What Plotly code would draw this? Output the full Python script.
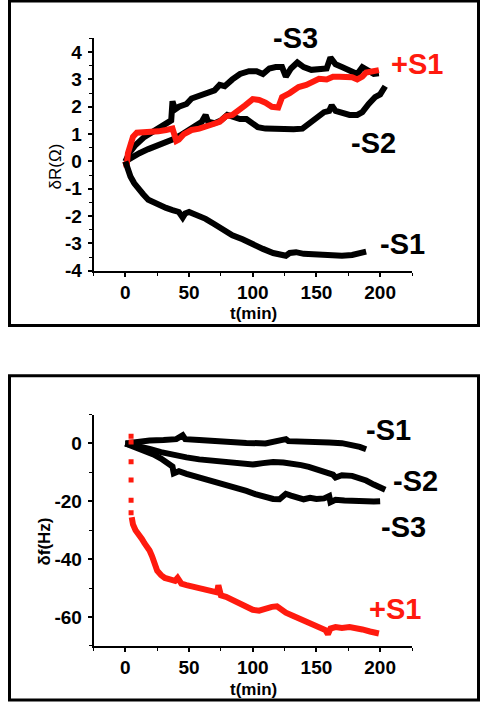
import plotly.graph_objects as go

# ---------------- Top panel: deltaR (Ohm) vs t (min) ----------------
t_R_mS3 = [0, 3, 8, 15, 22, 30, 36, 37, 39, 42, 48, 52, 58, 64, 70, 74, 78, 84, 90, 97, 103, 108,
           113, 118, 123, 126, 130, 135, 140, 146, 152, 158, 161, 165, 170, 176, 182, 186, 190, 195, 199]
R_mS3 = [0, 0.3, 0.6, 0.9, 1.1, 1.35, 1.5, 2.2, 1.9, 2.0, 2.1, 2.3, 2.4, 2.5, 2.6, 2.8, 2.75, 3.0, 3.2,
         3.3, 3.3, 3.2, 3.4, 3.45, 3.45, 3.1, 3.4, 3.62, 3.45, 3.35, 3.35, 3.4, 3.8, 3.55, 3.45, 3.3,
         3.2, 3.45, 3.35, 3.2, 3.22]

t_R_pS1 = [0, 1, 2, 4, 6, 9, 14, 20, 26, 32, 37, 40, 42, 46, 52, 58, 63, 68, 74, 79, 84, 89, 94, 100,
           105, 110, 115, 120, 123, 129, 136, 142, 147, 152, 158, 163, 168, 173, 178, 182, 186, 189,
           194, 199]
R_pS1 = [0, -0.2, 0.3, 0.7, 0.9, 1.05, 1.05, 1.05, 1.1, 1.15, 1.2, 0.75, 0.8, 1.0, 1.15, 1.2, 1.3,
         1.35, 1.45, 1.65, 1.7, 1.85, 2.05, 2.28, 2.25, 2.15, 2.0, 1.97, 2.35, 2.5, 2.72, 2.8, 2.9,
         3.02, 3.0, 3.1, 3.1, 3.1, 3.08, 3.0, 3.1, 3.25, 3.3, 3.34]

t_R_mS2 = [0, 5, 11, 18, 27, 33, 37, 43, 48, 55, 60, 63, 65, 70, 75, 80, 84, 90, 95, 100, 104, 110,
           118, 125, 132, 139, 145, 150, 156, 160, 162, 165, 170, 176, 182, 186, 191, 196, 200, 204]
R_mS2 = [0, 0.15, 0.3, 0.45, 0.6, 0.7, 0.8, 0.95, 1.1, 1.3, 1.45, 1.7, 1.45, 1.4, 1.5, 1.7, 1.65,
         1.55, 1.55, 1.35, 1.25, 1.2, 1.18, 1.2, 1.18, 1.2, 1.4, 1.6, 1.8, 1.85, 2.05, 1.85, 1.8,
         1.7, 1.7, 1.8, 2.1, 2.35, 2.45, 2.75]

t_R_mS1 = [0, 2, 4, 7, 10, 14, 18, 22, 27, 32, 37, 42, 45, 47, 50, 56, 63, 70, 77, 84, 92, 100, 108,
           116, 121, 126, 129, 134, 140, 150, 160, 170, 178, 184, 189]
R_mS1 = [0, -0.3, -0.55, -0.8, -1.0, -1.2, -1.4, -1.5, -1.6, -1.7, -1.78, -1.85, -2.05, -1.9, -1.85,
         -1.95, -2.1, -2.3, -2.5, -2.7, -2.85, -3.05, -3.2, -3.35, -3.42, -3.45, -3.35, -3.32, -3.38,
         -3.42, -3.45, -3.45, -3.42, -3.38, -3.3]

# ---------------- Bottom panel: delta f (Hz) vs t (min) ----------------
t_f_mS1 = [0, 5, 10, 19, 30, 40, 45, 47, 58, 70, 84, 95, 110, 118, 126, 128, 140, 150, 160, 170, 178,
           184, 189]
f_mS1 = [0, 0.3, 0.5, 1.0, 1.2, 1.5, 2.8, 1.5, 1.2, 0.8, 0.5, 0.2, 0, 0.5, 1.5, 0.8, 0.8, 0.6, 0.3,
         0.1, -0.4, -1.2, -2.0]

t_f_mS2 = [0, 10, 19, 28, 37, 48, 58, 66, 72, 78, 84, 92, 100, 108, 116, 124, 131, 138, 144, 150, 157,
           163, 165, 170, 178, 184, 189, 195, 200, 204]
f_mS2 = [0, -0.8, -1.9, -3.0, -4.0, -4.8, -5.5, -5.9, -6.1, -6.4, -6.8, -7.2, -7.3, -6.8, -6.4, -6.6,
         -6.9, -7.5, -8.1, -9.0, -10.0, -10.8, -11.8, -11.0, -11.2, -11.8, -12.8, -14.2, -15.2, -16.0]

t_f_mS3 = [0, 8, 15, 22, 28, 34, 37, 38, 42, 48, 54, 60, 66, 72, 79, 86, 95, 102, 110, 116, 121, 124,
           126, 130, 136, 140, 145, 150, 156, 160, 161, 165, 172, 178, 184, 190, 195, 200]
f_mS3 = [0, -1.2, -2.5, -3.8, -5.2, -7.0, -8.0, -10.3, -9.6, -10.5, -11.2, -12.0, -12.6, -13.3, -14.3,
         -15.2, -16.4, -17.5, -18.6, -19.2, -19.3, -18.5, -17.4, -18.0, -18.7, -19.3, -18.8, -19.2,
         -19.0, -18.2, -20.3, -19.5, -19.7, -19.9, -19.7, -19.9, -20.1, -20.0]

t_f_pS1_dots = [4.5, 4.5, 4.5, 4.5, 4.5, 4.5]
f_pS1_dots = [2.5, 0.5, -6.3, -12.6, -19.6, -24.0]

t_f_pS1 = [5, 6, 8, 11, 13, 15, 17, 19, 21, 23, 25, 28, 31, 35, 39, 41, 44, 48, 53, 58, 63, 68, 72, 73,
           75, 79, 84, 89, 94, 100, 105, 110, 115, 119, 122, 126, 131, 136, 142, 147, 152, 157, 159,
           161, 165, 170, 176, 182, 186, 192, 196, 199]
f_pS1 = [-25.5, -28, -30, -31.5, -33, -34.5, -35.5, -37, -39, -42, -44, -45.5, -46.5, -47, -47.5, -46.5,
         -48.5, -49, -49.5, -50, -51, -51.5, -51.5, -49, -52.5, -53, -54, -55, -56.3, -57.5, -57.8,
         -57, -56.5, -56.3, -57.5, -58.5, -59.5, -60.5, -61.5, -62.5, -63.3, -64.5, -66, -64, -63.5,
         -63.8, -63.5, -63.8, -64.3, -65, -65.3, -65.7]

x_ticks = [0, 50, 100, 150, 200]
R_ticks = [-4, -3, -2, -1, 0, 1, 2, 3, 4]
f_ticks = [-60, -40, -20, 0]

BLACK = "#000000"
RED = "#ff1a0e"
FONT = "Arial, 'Liberation Sans', sans-serif"
LW = 6

fig = go.Figure()

def line(x, y, color, xa, ya):
    fig.add_trace(go.Scatter(x=x, y=y, mode="lines", xaxis=xa, yaxis=ya,
                             line=dict(color=color, width=LW), showlegend=False,
                             hoverinfo="skip"))

# top panel
line(t_R_mS3, R_mS3, BLACK, "x", "y")
line(t_R_mS2, R_mS2, BLACK, "x", "y")
line(t_R_pS1, R_pS1, RED, "x", "y")
line(t_R_mS1, R_mS1, BLACK, "x", "y")
# bottom panel
line(t_f_mS1, f_mS1, BLACK, "x2", "y2")
line(t_f_mS2, f_mS2, BLACK, "x2", "y2")
line(t_f_mS3, f_mS3, BLACK, "x2", "y2")
line(t_f_pS1, f_pS1, RED, "x2", "y2")
fig.add_trace(go.Scatter(x=t_f_pS1_dots, y=f_pS1_dots, mode="markers", xaxis="x2", yaxis="y2",
                         marker=dict(symbol="square", size=5, color=RED), showlegend=False,
                         hoverinfo="skip"))

W, H = 488, 716
def px(x):
    return x / W
def py(y):
    return 1 - y / H

axis_common = dict(showline=True, linecolor=BLACK, linewidth=1.5, ticks="outside", ticklen=4,
                   tickwidth=1.5, tickcolor=BLACK, showgrid=False, zeroline=False, mirror=False,
                   tickfont=dict(family=FONT, size=19, color=BLACK, weight="bold"))

xaxis_common = dict(axis_common, range=[-25, 225], tickvals=x_ticks, ticktext=[str(v) for v in x_ticks],
                    minor=dict(dtick=25, tick0=0, ticks="outside", ticklen=3, tickwidth=1.2,
                               tickcolor=BLACK, showgrid=False))

fig.update_layout(
    width=W, height=H, margin=dict(l=0, r=0, t=0, b=0),
    paper_bgcolor="white", plot_bgcolor="white",
    xaxis=dict(xaxis_common, domain=[px(93.5), px(412)], anchor="y"),
    yaxis=dict(axis_common, domain=[py(275), py(39)], anchor="x", range=[-4, 4.5],
               tickvals=R_ticks, ticktext=[str(v) for v in R_ticks], ticklabelstandoff=2,
               minor=dict(dtick=0.5, tick0=0, ticks="outside", ticklen=3, tickwidth=1.2,
                          tickcolor=BLACK, showgrid=False)),
    xaxis2=dict(xaxis_common, domain=[px(93.5), px(412)], anchor="y2"),
    yaxis2=dict(axis_common, domain=[py(656), py(421)], anchor="x2", range=[-70, 10],
                tickvals=f_ticks, ticktext=[str(v) for v in f_ticks], ticklabelstandoff=2,
                minor=dict(dtick=10, tick0=0, ticks="outside", ticklen=3, tickwidth=1.2,
                           tickcolor=BLACK, showgrid=False)),
)

# borders
fig.add_shape(type="rect", xref="paper", yref="paper", x0=px(9.5), x1=px(478.5), y0=py(330.5),
              y1=py(1), line=dict(color=BLACK, width=3))
fig.add_shape(type="rect", xref="paper", yref="paper", x0=px(9.5), x1=px(478.5), y0=py(711),
              y1=py(381.5), line=dict(color=BLACK, width=3))

def ann(text, x, y, size=29, color=BLACK, bold=True, angle=0):
    fig.add_annotation(text=text, x=px(x), y=py(y), xref="paper", yref="paper", showarrow=False,
                       textangle=angle, xanchor="center", yanchor="middle",
                       font=dict(family=FONT, size=size, color=color,
                                 weight="bold" if bold else "normal"))

# axis titles
ann("t(min)", 253, 318, size=17)
ann("t(min)", 253, 700, size=17)
ann("δR(Ω)", 55, 169, size=17, bold=False, angle=-90)
ann("δf(Hz)", 45, 550, size=17, angle=-90)

# curve labels (pixel positions of label centres)
ann("-S3", 295, 39)
ann("+S1", 417, 65, color=RED)
ann("-S2", 373, 145)
ann("-S1", 402, 248)
ann("-S1", 388, 437)
ann("-S2", 415, 488)
ann("-S3", 403, 535)
ann("+S1", 395, 618, color=RED)

fig.write_html("out.html")
